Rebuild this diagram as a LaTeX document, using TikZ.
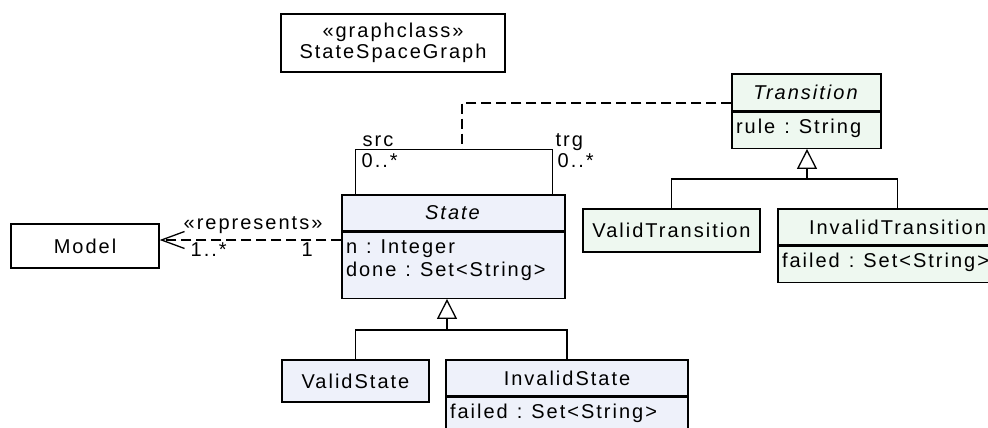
\documentclass[tikz,border=0pt]{standalone}
\usepackage{fontspec}
\setmainfont{Liberation Sans}[LetterSpace=10]
\usepackage{tikz}
\usetikzlibrary{arrows.meta, positioning}
\definecolor{stateFill}{HTML}{EEF1FA}
\definecolor{transFill}{HTML}{EEF8F0}
\frenchspacing
\newcommand{\umlfont}{\fontsize{20}{23}\selectfont}
\newcommand{\ofType}{\hspace{0.45em}:\hspace{0.45em}}

\begin{document}
\begin{tikzpicture}[
        x=1pt, y=-1pt,
        font=\umlfont,
        line width=1.3pt,
        box/.style={rectangle, draw=black, fill=white, inner sep=0pt, align=center},
        head/.style={box, minimum height=36pt},
        attrs/.style={rectangle, draw=black, anchor=north, inner xsep=4pt, inner ysep=7pt, text height=14pt, text depth=8pt, align=left},
        gen/.style={-{Triangle[fill=white, length=20pt, width=20pt]}},
        dep/.style={dash pattern=on 10pt off 5pt},
        tag/.style={inner sep=0pt}
    ]
        \useasboundingbox (0,0) rectangle (988,428);

        % --- Graph class ---
        \node[box, minimum width=224pt, minimum height=58pt, font=\umlfont\linespread{0.92}\selectfont] (graph) at (393,43) {«graphclass»\\StateSpaceGraph};

        % --- State hierarchy ---
        \node[head, minimum width=223pt, fill=stateFill] (state) at (453.5,213) {\textit{State}};
        \node[attrs, fill=stateFill, text width=215pt, text depth=38pt] (stateA) at (state.south) {n\ofType Integer\\done\ofType Set<String>};
        \node[head, minimum width=147pt, minimum height=42pt, fill=stateFill] (vstate) at (355.5,381) {ValidState};
        \node[head, minimum width=242pt, fill=stateFill] (istate) at (567,378) {InvalidState};
        \node[attrs, fill=stateFill, text width=234pt] (istateA) at (istate.south) {failed\ofType Set<String>};

        % --- Transition hierarchy ---
        \node[head, minimum width=149pt, minimum height=37pt, fill=transFill] (trans) at (806.5,92.5) {\textit{Transition}};
        \node[attrs, fill=transFill, text width=141pt] (transA) at (trans.south) {rule\ofType String};
        \node[head, minimum width=177pt, minimum height=43pt, fill=transFill] (vtrans) at (671.5,230.5) {ValidTransition};
        \node[head, minimum width=239pt, fill=transFill] (itrans) at (897.5,227) {InvalidTransition};
        \node[attrs, fill=transFill, text width=231pt] (itransA) at (itrans.south) {failed\ofType Set<String>};

        % --- Model ---
        \node[box, minimum width=148pt, minimum height=44pt] (model) at (85,246) {Model};

        % --- Generalizations ---
        \coordinate (stateJoin) at (447,330);
        \coordinate (transJoin) at (807,179);
        \draw[gen] (stateJoin) -- (stateJoin |- stateA.south);
        \draw (vstate.north) |- (stateJoin) -| (istate.north);
        \draw[gen] (transJoin) -- (transJoin |- transA.south);
        \draw (vtrans.north) |- (transJoin) -| (itrans.north);

        % --- src/trg association with class Transition ---
        \coordinate (loopTop) at (462,150);
        \draw ([xshift=14pt]state.north west) -- ++(0,-45) -| ([xshift=-13pt]state.north east);
        \draw[dep] ([yshift=-10.5pt]trans.west) -| (loopTop);
        \node[tag, anchor=base west] (srcRole) at (362,146) {src};
        \node[tag, anchor=base west] (srcMult) at (361,167) {0..*};
        \node[tag, anchor=base west] (trgRole) at (555,146) {trg};
        \node[tag, anchor=base west] (trgMult) at (557,167) {0..*};

        % --- represents ---
        \coordinate (modelEnd) at ([yshift=6pt]model.east);
        \draw[dep, -{Straight Barb[length=23pt, width=17pt]}] (modelEnd -| state.west) -- (modelEnd);
        \node[tag, anchor=base west] (repLabel) at (183,229) {«represents»};
        \node[tag, anchor=base west] (repMany) at (190,256) {1..*};
        \node[tag, anchor=base west] (repOne) at (301,256) {1};
\end{tikzpicture}
\end{document}
